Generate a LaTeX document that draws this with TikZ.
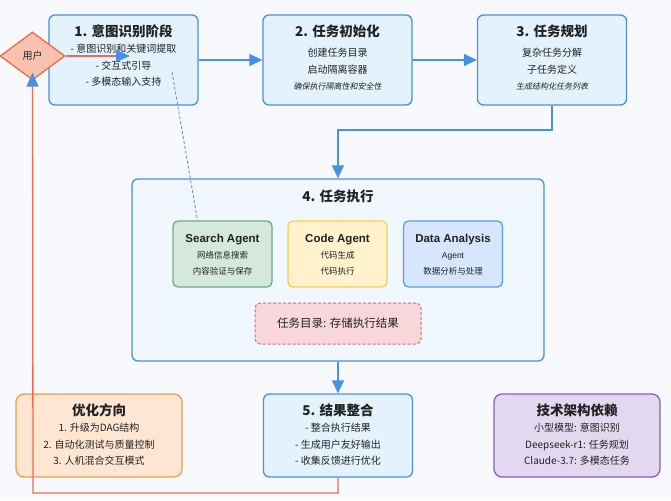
\documentclass[tikz,border=0pt]{standalone}
\usepackage{fontspec}
\setmainfont{Noto Sans CJK SC}
\newfontfamily\latinsans{Liberation Sans}
\newfontfamily\slantcjk{Noto Sans CJK SC}[FakeSlant=0.2]
\usetikzlibrary{shapes.geometric,arrows.meta,positioning}
\definecolor{bgcol}{HTML}{F8F9FC}
\definecolor{stageline}{HTML}{4A90E2}
\definecolor{stagefill}{HTML}{E3F2FD}
\definecolor{execfill}{HTML}{F0F7FE}
\definecolor{searchfill}{HTML}{D5E8DC}
\definecolor{searchline}{HTML}{6DAE85}
\definecolor{codefill}{HTML}{FFF2CC}
\definecolor{codeline}{HTML}{F5CD4F}
\definecolor{datafill}{HTML}{D6E6FD}
\definecolor{dataline}{HTML}{5C9BE8}
\definecolor{dirfill}{HTML}{F8D7DA}
\definecolor{dirline}{HTML}{E06470}
\definecolor{optfill}{HTML}{FFE6D2}
\definecolor{optline}{HTML}{F49A4A}
\definecolor{techfill}{HTML}{E2D9F0}
\definecolor{techline}{HTML}{8A5CC8}
\definecolor{userfill}{HTML}{F9C2B0}
\definecolor{userline}{HTML}{F06A4A}
\definecolor{loopline}{HTML}{F26B50}
\definecolor{txtdark}{HTML}{222222}
\tikzset{
  stage/.style={draw=stageline, fill=stagefill, rounded corners=6pt, line width=1.3pt, minimum width=149pt, minimum height=90pt, inner sep=0pt},
  agent/.style={rounded corners=5pt, line width=1.3pt, minimum width=99pt, minimum height=66pt, inner sep=0pt},
  side/.style={rounded corners=8pt, line width=1.3pt, minimum width=166pt, minimum height=83pt, inner sep=0pt},
  boxtext/.style={align=center, inner sep=0pt, text=txtdark, font=\fontsize{10}{16.5}\selectfont},
  agenttext/.style={align=center, inner sep=0pt, text=txtdark, font=\fontsize{8.5}{16}\selectfont},
  flow/.style={draw=stageline, line width=1.3pt, -{Triangle[length=13pt, width=12pt, color=stageline]}},
  loop/.style={draw=loopline, line width=1.3pt, -{Triangle[length=14pt, width=12pt, color=stageline]}}
}
\newcommand{\ttl}[1]{{\fontsize{13.5}{16}\selectfont\bfseries #1}}
\newcommand{\note}[1]{{\slantcjk\fontsize{8}{16}\selectfont #1}}
\begin{document}
\begin{tikzpicture}[x=1pt, y=-1pt]
\fill [bgcol] (0,0) rectangle (671,500);
\useasboundingbox (0,0) rectangle (671,500);
\node [stage] (s1) at (123.5,60) {};
\node [boxtext, below=10pt of s1.north] (s1txt) {\ttl{1. 意图识别阶段}\\- 意图识别和关键词提取\\- 交互式引导\\- 多模态输入支持};
\node [stage] (s2) at (337.5,60) {};
\node [boxtext, below=10pt of s2.north] (s2txt) {\ttl{2. 任务初始化}\\[4pt]创建任务目录\\启动隔离容器\\\note{确保执行隔离性和安全性}};
\node [stage] (s3) at (552,60) {};
\node [boxtext, below=10pt of s3.north] (s3txt) {\ttl{3. 任务规划}\\[4pt]复杂任务分解\\子任务定义\\\note{生成结构化任务列表}};
\node [stage, fill=execfill, minimum width=412pt, minimum height=182pt] (s4) at (338,270) {};
\node [boxtext, below=11pt of s4.north] (s4txt) {\ttl{4. 任务执行}};
\node [agent, draw=searchline, fill=searchfill] (search) at (222.5,254) {};
\node [agenttext, below=14pt of search.north] (searchtxt) {{\latinsans\bfseries\fontsize{11.5}{14}\selectfont Search Agent}\\网络信息搜索\\内容验证与保存};
\node [agent, draw=codeline, fill=codefill] (code) at (337.5,254) {};
\node [agenttext, below=14pt of code.north] (codetxt) {{\latinsans\bfseries\fontsize{11.5}{14}\selectfont Code Agent}\\代码生成\\代码执行};
\node [agent, draw=dataline, fill=datafill] (data) at (453,254) {};
\node [agenttext, below=14pt of data.north] (datatxt) {{\latinsans\bfseries\fontsize{11.5}{14}\selectfont Data Analysis}\\{\latinsans Agent}\\数据分析与处理};
\node [agent, draw=dirline, fill=dirfill, dashed, dash pattern=on 3pt off 2pt, line width=1pt, minimum width=166pt, minimum height=41pt, text=txtdark, font=\fontsize{11.5}{14}\selectfont] (taskdir) at (338,323.5) {任务目录: 存储执行结果};
\node [stage, minimum height=83pt] (s5) at (338,435.5) {};
\node [boxtext, below=10pt of s5.north] (s5txt) {\ttl{5. 结果整合}\\- 整合执行结果\\- 生成用户友好输出\\- 收集反馈进行优化};
\node [side, draw=optline, fill=optfill] (opt) at (99,435.5) {};
\node [boxtext, below=10pt of opt.north] (opttxt) {\ttl{优化方向}\\1. 升级为DAG结构\\2. 自动化测试与质量控制\\3. 人机混合交互模式};
\node [side, draw=techline, fill=techfill] (tech) at (577,435.5) {};
\node [boxtext, below=10pt of tech.north] (techtxt) {\ttl{技术架构依赖}\\小型模型: 意图识别\\Deepseek-r1: 任务规划\\Claude-3.7: 多模态任务};
\node [diamond, draw=userline, fill=userfill, line width=1.3pt, minimum width=65pt, minimum height=48pt, inner sep=0pt, text=txtdark, font=\fontsize{10}{12}\selectfont] (user) at (32.5,56) {用户};
\coordinate (uin) at (130,56);
\coordinate (hint) at (172,72);
\coordinate (bend) at (552,130);
\coordinate (back) at (33,493);
\draw [flow] (s1) -- (s2);
\draw [flow] (s2) -- (s3);
\draw [flow] (s3.south) |- (bend -| s4.north) -- (s4.north);
\draw [flow] (s4.south) -- (s5.north);
\draw [draw=stageline, line width=0.8pt, dash pattern=on 3pt off 2pt] (hint) -- ([xshift=-25pt]search.north);
\draw [loop] (user.east) -- (uin);
\draw [loop] (s5.south) |- (back) -- ([yshift=8pt]user.south);
\end{tikzpicture}
\end{document}
